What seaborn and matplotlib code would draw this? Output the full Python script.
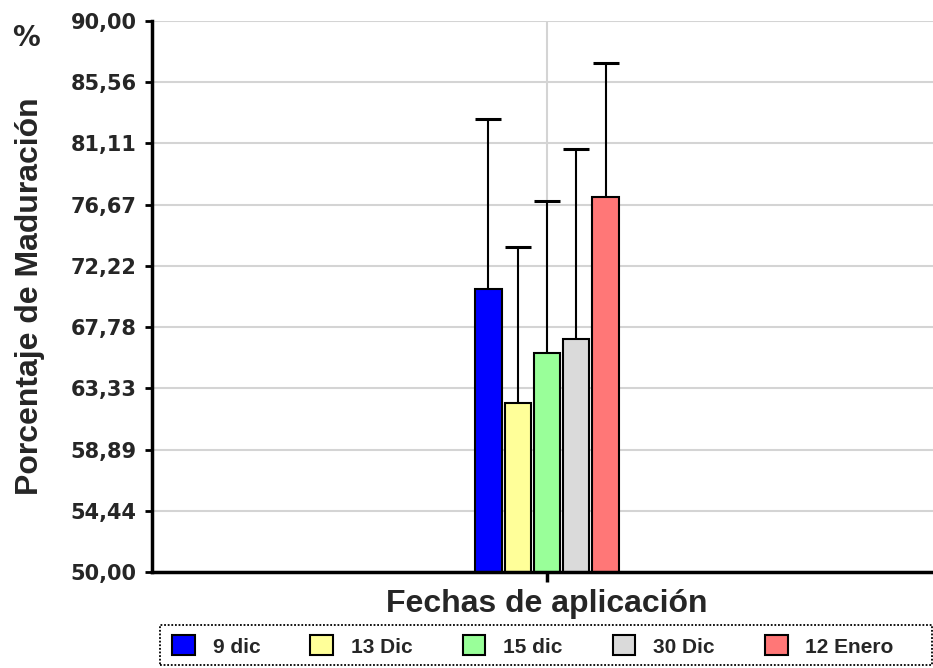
import matplotlib
matplotlib.use("Agg")
import matplotlib.pyplot as plt
from matplotlib.patches import Rectangle
import pandas as pd
import seaborn as sns

# Porcentaje de maduración por fecha de aplicación (media y límite superior)
fechas = ["9 dic", "13 Dic", "15 dic", "30 Dic", "12 Enero"]
maduracion = [70.57, 62.26, 65.89, 66.90, 77.25]
limite_superior = [82.89, 73.60, 76.94, 80.73, 86.95]
colores = ["#0000FF", "#FFFF99", "#99FF99", "#DADADA", "#FF7777"]
y_ticks = [50.00, 54.44, 58.89, 63.33, 67.78, 72.22, 76.67, 81.11, 85.56, 90.00]
y_tick_labels = ["50,00", "54,44", "58,89", "63,33", "67,78",
                 "72,22", "76,67", "81,11", "85,56", "90,00"]

df = pd.DataFrame({"grupo": [""] * len(fechas), "fecha": fechas, "valor": maduracion})

sns.set_style("white")
plt.rcParams["font.family"] = ["Liberation Sans", "DejaVu Sans"]

W, H = 933, 668
fig = plt.figure(figsize=(W / 100, H / 100), dpi=100)
ax = fig.add_axes([152 / W, 96 / H, 790 / W, 551 / H])
ax.set_axisbelow(True)

sns.barplot(data=df, x="grupo", y="valor", hue="fecha", hue_order=fechas,
            palette=colores, saturation=1, width=0.8, gap=0.11,
            edgecolor="black", linewidth=1.5, errorbar=None, ax=ax)

# barras de error solo hacia arriba
for cont, m, sup in zip(ax.containers, maduracion, limite_superior):
    bar = cont.patches[0]
    xc = bar.get_x() + bar.get_width() / 2
    _, caps, _ = ax.errorbar([xc], [m], yerr=[[0], [sup - m]], fmt="none",
                             ecolor="black", elinewidth=1.5, capsize=9.7,
                             capthick=2.2, zorder=3)
    for c in caps:
        if abs(c.get_ydata()[0] - m) < 1e-9:
            c.set_visible(False)
        else:
            c.set_color("#333333")

ax.set_ylim(50, 90)
ax.set_xlim(-2.16, 2.16)
ax.set_yticks(y_ticks)
ax.set_yticklabels(y_tick_labels, fontfamily="DejaVu Sans", fontweight="bold", fontsize=15)
ax.set_xticks([0])
ax.set_xticklabels([""])

ax.grid(True, color="#d4d4d4", linewidth=1.5)
for s in ["top", "right"]:
    ax.spines[s].set_visible(False)
for s in ["left", "bottom"]:
    ax.spines[s].set_color("black")
    ax.spines[s].set_linewidth(2.5)
ax.tick_params(axis="y", direction="out", length=5, width=2, color="black", pad=6, left=True)
ax.tick_params(axis="x", direction="out", length=7, width=2.5, color="black", bottom=True)

ax.set_xlabel("Fechas de aplicación", fontsize=23, fontweight="bold")
ax.xaxis.set_label_coords(0.5, -0.031)
ax.set_ylabel("Porcentaje de Maduración", fontsize=23, fontweight="bold")
ax.yaxis.set_label_coords(-0.136, 0.5)

fig.text(26 / W, 1 - 38 / H, "%", ha="center", va="center", fontsize=20,
         fontweight="bold", fontfamily="DejaVu Sans")

# leyenda inferior con marco punteado
handles, labels = ax.get_legend_handles_labels()
if ax.get_legend() is not None:
    ax.get_legend().remove()
leg = fig.legend(handles, labels, loc="center left", ncol=5, frameon=False,
                 bbox_to_anchor=(172 / W, 22 / H), borderpad=0, borderaxespad=0,
                 handlelength=1.1, handleheight=1.1, handletextpad=0.85,
                 columnspacing=2.4, prop={"weight": "bold", "size": 15})
for h, c in zip(leg.legend_handles, colores):
    h.set_facecolor(c)
    h.set_edgecolor("black")
    h.set_linewidth(1.5)

fig.add_artist(Rectangle((160 / W, 3 / H), 772 / W, 40 / H, transform=fig.transFigure,
                         fill=False, edgecolor="black", linewidth=1.3,
                         linestyle=(0, (1, 1))))

fig.savefig("out.png", dpi=100)
